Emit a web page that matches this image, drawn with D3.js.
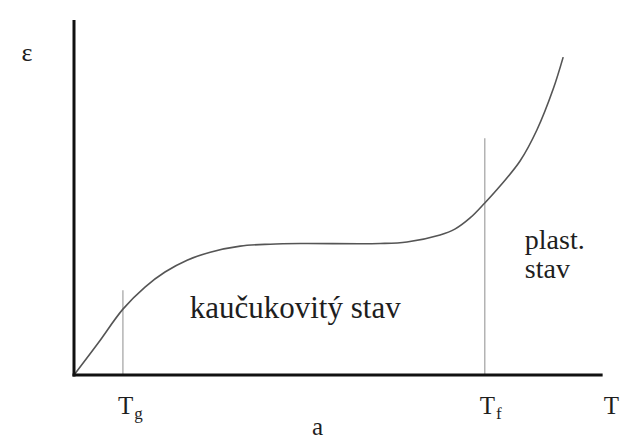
<!DOCTYPE html>
<html>
<head>
<meta charset="utf-8">
<script src="https://cdn.jsdelivr.net/npm/d3@7"></script>
<style>
  html, body { margin: 0; padding: 0; background: #fff; }
  svg { display: block; }
  svg text { font-family: "Liberation Serif", "DejaVu Serif", "Times New Roman", serif; }
</style>
</head>
<body>
<svg id="chart" width="620" height="439"></svg>
<script>
// Deformation ε versus temperature T (thermomechanical curve)
const curveT   = [0, 4.6, 9.3, 13.5, 17.3, 21.5, 25.9, 31.6, 37.3, 43.0, 58.2, 63.3, 69.6, 72.4, 75.3, 78.1, 81.0, 84.8, 88.0, 91.1, 93.0];
const curveEps = [0, 10.0, 20.6, 27.5, 32.2, 35.9, 38.4, 40.3, 40.9, 41.1, 41.1, 41.6, 43.8, 45.6, 49.1, 53.8, 59.1, 66.9, 76.6, 89.4, 99.4];

// Characteristic temperatures: glass transition and flow temperature
const markerSub = ["g", "f"];
const markerT   = [9.3, 78.1];
const markerTop = [26.5, 74.0];

// Region labels
const regionLines = [["kaučukovitý stav"], ["plast.", "stav"]];
const regionT     = [22.0, 85.7];
const regionEps   = [17.8, 39.3];

const axisLabelX = "T";
const axisLabelY = "ε";
const caption    = "a";

const serif = "Liberation Serif, DejaVu Serif, serif";
const ink = "#1e1e1e";

const svg = d3.select("#chart");
const x = d3.scaleLinear().domain([0, 100]).range([74, 600]);
const y = d3.scaleLinear().domain([0, 111]).range([375, 20]);

const label = (sel) => sel.style("font-family", serif).attr("fill", ink);

// vertical guides at Tg and Tf
svg.selectAll("line.guide")
  .data(markerT)
  .join("line")
  .attr("class", "guide")
  .attr("x1", d => x(d)).attr("x2", d => x(d))
  .attr("y1", (d, i) => y(markerTop[i])).attr("y2", y(0))
  .attr("stroke", "#a0a0a0")
  .attr("stroke-width", 1.2);

// the deformation curve
const line = d3.line()
  .x((d, i) => x(curveT[i]))
  .y(d => y(d))
  .curve(d3.curveCatmullRom.alpha(0.5));
svg.append("path")
  .attr("d", line(curveEps))
  .attr("fill", "none")
  .attr("stroke", "#555")
  .attr("stroke-width", 1.6);

// axes
svg.append("line")
  .attr("x1", x(0)).attr("x2", x(0))
  .attr("y1", y(111)).attr("y2", y(0) + 1.5)
  .attr("stroke", "#111").attr("stroke-width", 3);
svg.append("line")
  .attr("x1", x(0) - 1.5).attr("x2", x(100.5))
  .attr("y1", y(0)).attr("y2", y(0))
  .attr("stroke", "#111").attr("stroke-width", 3);

// axis labels
svg.append("text").call(label)
  .attr("x", 27).attr("y", 61)
  .attr("text-anchor", "middle")
  .style("font-size", "26px")
  .text(axisLabelY);
svg.append("text").call(label)
  .attr("x", x(100.5) + 1).attr("y", 414)
  .style("font-size", "25px")
  .text(axisLabelX);

// Tg, Tf labels with subscripts
const tl = svg.selectAll("text.tmark")
  .data(markerT)
  .join("text")
  .attr("class", "tmark")
  .call(label)
  .attr("x", d => x(d) - 5)
  .attr("y", 414)
  .style("font-size", "25px");
tl.append("tspan").text("T");
tl.append("tspan")
  .style("font-size", "17px")
  .attr("dy", 5)
  .attr("dx", 1)
  .text((d, i) => markerSub[i]);

// region labels, one text element per line
regionLines.forEach((lines, i) => {
  lines.forEach((s, k) => {
    svg.append("text").call(label)
      .attr("x", x(regionT[i]))
      .attr("y", y(regionEps[i]) + k * 29)
      .style("font-size", i === 0 ? "31px" : "28px")
      .text(s);
  });
});

// panel caption
svg.append("text").call(label)
  .attr("x", 312).attr("y", 435)
  .style("font-size", "25px")
  .text(caption);
</script>
</body>
</html>
